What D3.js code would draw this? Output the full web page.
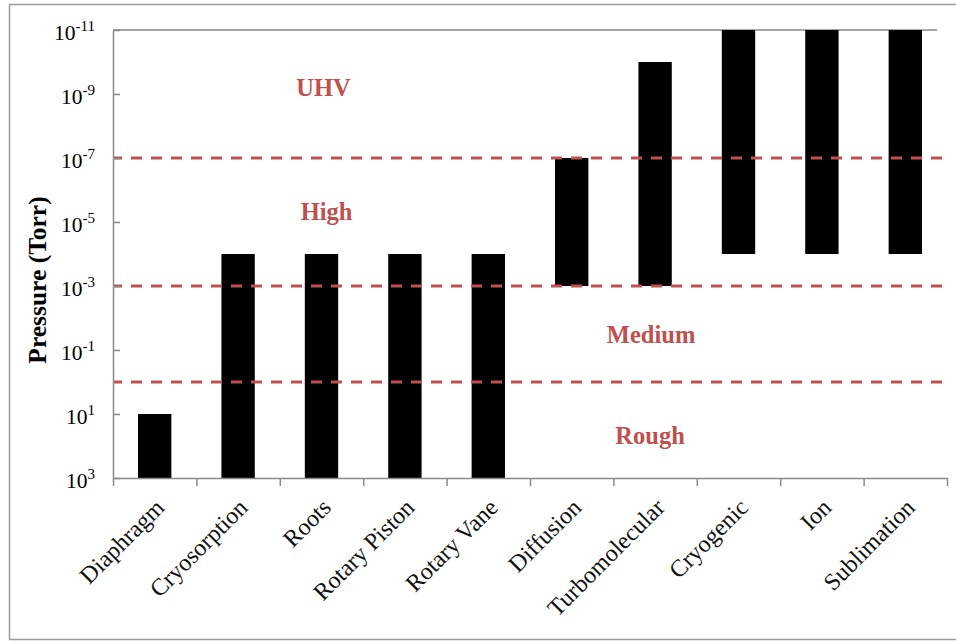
<!DOCTYPE html>
<html>
<head>
<meta charset="utf-8">
<script src="https://cdn.jsdelivr.net/npm/d3@7"></script>
<style>
  html, body { margin: 0; padding: 0; background: #fff; }
  svg { display: block; }
</style>
</head>
<body>
<svg id="chart" width="956" height="643"></svg>
<script>
// Operating pressure ranges of vacuum pumps (Torr)
const categories = ["Diaphragm", "Cryosorption", "Roots", "Rotary Piston", "Rotary Vane",
                    "Diffusion", "Turbomolecular", "Cryogenic", "Ion", "Sublimation"];
// Highest pressure at which each pump works (bar bottom)
const upperPressure = [1e3, 1e3, 1e3, 1e3, 1e3, 1e-3, 1e-3, 1e-4, 1e-4, 1e-4];
// Lowest pressure each pump reaches (bar top)
const lowerPressure = [1e1, 1e-4, 1e-4, 1e-4, 1e-4, 1e-7, 1e-10, 1e-11, 1e-11, 1e-11];

// Vacuum regime boundaries and their names
const regimeBounds = [1e-7, 1e-3, 1e0];
const regimeNames = ["UHV", "High", "Medium", "Rough"];
const regimeAnchor = ["Roots", "Roots", "Turbomolecular", "Turbomolecular"];
const regimeShift = [2, 5, -4, -5];
const regimeLevel = [10 ** -9.22, 10 ** -5.34, 10 ** -1.5, 10 ** 1.66];

// Y axis ticks: powers of ten and their exponents
const tickValues = [1e-11, 1e-9, 1e-7, 1e-5, 1e-3, 1e-1, 1e1, 1e3];
const tickExponents = ["-11", "-9", "-7", "-5", "-3", "-1", "1", "3"];

const svg = d3.select("#chart");
const plot = { left: 113, right: 947, top: 30, bottom: 478 };
const serif = "'Liberation Serif', 'Times New Roman', serif";
const red = "#c0504d";
const axisGray = "#8a8a8a";

// Outer frame
svg.append("rect")
  .attr("x", 9.5).attr("y", 4.5)
  .attr("width", 960).attr("height", 635)
  .attr("fill", "none").attr("stroke", "#9a9a9a").attr("stroke-width", 1.5);

const y = d3.scaleLog().domain([1e-11, 1e3]).range([plot.top, plot.bottom]);
const x = d3.scaleBand().domain(categories)
  .range([plot.left, plot.right]).paddingInner(0.6).paddingOuter(0.3);
const xEdge = d3.scaleLinear().domain([0, categories.length]).range([plot.left, plot.right]);

// Top edge of the plot area
svg.append("line")
  .attr("x1", plot.left).attr("x2", plot.right - 10)
  .attr("y1", y(1e-11)).attr("y2", y(1e-11))
  .attr("stroke", axisGray).attr("stroke-width", 1.5);

// Bars spanning each pump's working range
svg.append("g").selectAll("rect")
  .data(categories)
  .join("rect")
  .attr("x", d => x(d))
  .attr("width", x.bandwidth())
  .attr("y", (d, i) => y(lowerPressure[i]))
  .attr("height", (d, i) => y(upperPressure[i]) - y(lowerPressure[i]))
  .attr("fill", "#000");

// Regime boundary lines
svg.append("g").selectAll("line")
  .data(regimeBounds)
  .join("line")
  .attr("x1", plot.left).attr("x2", plot.right)
  .attr("y1", d => y(d)).attr("y2", d => y(d))
  .attr("stroke", red).attr("stroke-width", 3)
  .attr("stroke-dasharray", "11,9").attr("stroke-dashoffset", 2);

// Regime names
svg.append("g").selectAll("text")
  .data(regimeNames)
  .join("text")
  .attr("x", (d, i) => x(regimeAnchor[i]) + x.bandwidth() / 2 + regimeShift[i])
  .attr("y", (d, i) => y(regimeLevel[i]))
  .attr("dy", "0.35em")
  .attr("text-anchor", "middle")
  .attr("font-family", serif).attr("font-weight", "bold").attr("font-size", 24.5)
  .attr("fill", red)
  .text(d => d);

// Y axis with ticks on the inside
const yAxis = svg.append("g")
  .attr("transform", `translate(${plot.left},0)`)
  .call(d3.axisLeft(y).tickValues(tickValues).tickSize(-7).tickSizeOuter(0).tickPadding(18));
yAxis.select(".domain").attr("stroke", axisGray).attr("stroke-width", 1.5);
yAxis.selectAll(".tick line").attr("stroke", axisGray).attr("stroke-width", 1.5);
yAxis.selectAll(".tick text")
  .attr("font-family", serif).attr("font-size", 21.5).attr("fill", "#000")
  .attr("dy", "0.45em")
  .text(null)
  .each(function (d, i) {
    const t = d3.select(this);
    t.append("tspan").text("10");
    t.append("tspan").attr("font-size", 15).attr("dy", "-0.62em").text(tickExponents[i]);
  });

// X axis: ticks at category boundaries
const xAxis = svg.append("g")
  .attr("transform", `translate(0,${plot.bottom})`)
  .call(d3.axisBottom(xEdge).tickValues(d3.range(categories.length + 1))
    .tickFormat("").tickSize(8).tickSizeOuter(0));
xAxis.select(".domain").attr("stroke", axisGray).attr("stroke-width", 1.5);
xAxis.selectAll(".tick line").attr("stroke", axisGray).attr("stroke-width", 1.5);

// Category labels, rotated
svg.append("g").selectAll("text")
  .data(categories)
  .join("text")
  .attr("transform", d => `translate(${x(d) + x.bandwidth() / 2 + 5},${plot.bottom + 25}) rotate(-45)`)
  .attr("text-anchor", "end")
  .attr("dy", "0.35em")
  .attr("font-family", serif).attr("font-size", 24).attr("fill", "#111")
  .text(d => d);

// Y axis title
svg.append("text")
  .attr("transform", `translate(37,${(plot.top + plot.bottom) / 2 + 26}) rotate(-90)`)
  .attr("text-anchor", "middle")
  .attr("dy", "0.35em")
  .attr("font-family", serif).attr("font-weight", "bold").attr("font-size", 25.5)
  .attr("fill", "#000")
  .text("Pressure (Torr)");
</script>
</body>
</html>
